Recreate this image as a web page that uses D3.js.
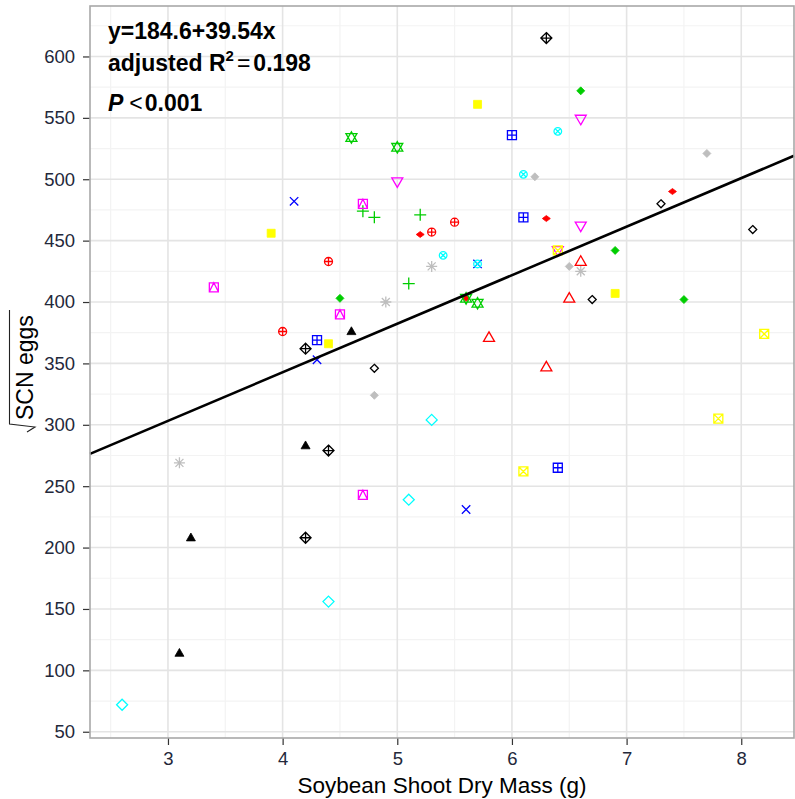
<!DOCTYPE html>
<html>
<head>
<meta charset="utf-8">
<script src="https://cdn.jsdelivr.net/npm/d3@7"></script>
<style>
  html, body { margin: 0; padding: 0; background: #fff; }
  svg { display: block; font-family: "Liberation Sans", Arial, sans-serif; }
</style>
</head>
<body>
<svg id="chart" width="795" height="799"></svg>
<script>
// Soybean shoot dry mass (g) per plant, one row per cultivar group
const shootMass = [
  [3.1, 3.2, 4.2, 4.6],      // g1
  [4.2, 4.2, 4.4, 6.3],      // g2
  [4.8, 6.7, 7.3, 8.1],      // g3
  [4.8, 6.2, 6.5, 7.7],      // g4
  [3.1, 4.9, 5.3, 6.6],      // g5
  [5.2, 5.6, 6.3, 7.4],      // g6
  [4.0, 4.4, 5.3, 5.5],      // g7
  [5.8, 6.3, 6.5, 6.6],      // g8
  [4.5, 6.6, 6.9, 7.5],      // g9
  [4.7, 4.8, 5.1, 5.2],      // g10
  [4.6, 5.0, 5.6, 5.7],      // g11
  [4.3, 6.0, 6.1, 6.4],      // g12
  [4.1, 4.3, 5.6, 5.7],      // g13
  [2.6, 4.4, 5.1, 5.3],      // g14
  [5.4, 5.7, 6.1, 6.4],      // g15
  [5.0, 6.4, 6.6, 6.6],      // g16
  [3.4, 4.5, 4.7, 4.7],      // g17
  [3.9, 4.4, 5.7, 6.9],      // g18
  [6.1, 6.4, 7.8, 8.2]       // g19
];

// square-root transformed SCN egg counts, same order as shootMass
const sqrtEggs = [
  [114, 208, 283, 376],
  [208, 362, 279, 615],
  [346, 402, 480, 459],
  [324, 502, 429, 521],
  [269, 400, 429, 425],
  [455, 403, 468, 490],
  [376, 433, 457, 465],
  [371, 347, 403, 433],
  [403, 572, 442, 402],
  [474, 469, 415, 471],
  [534, 526, 403, 399],
  [369, 536, 469, 265],
  [482, 353, 231, 431],
  [72, 156, 239, 304],
  [438, 431, 504, 539],
  [498, 442, 462, 549],
  [412, 390, 243, 480],
  [456, 366, 561, 407],
  [262, 442, 305, 374]
];

// fitted linear model
const intercept = 184.6;
const slope = 39.54;
const adjR2 = "0.198";
const pText = "0.001";

const xTicks = [3, 4, 5, 6, 7, 8];
const yTicks = [50, 100, 150, 200, 250, 300, 350, 400, 450, 500, 550, 600];
const xMinor = [2.5, 3.5, 4.5, 5.5, 6.5, 7.5];
const yMinor = [75, 125, 175, 225, 275, 325, 375, 425, 475, 525, 575, 625];

// marker look for each group (base R palette colours)
const markerStyle = [
  { shape: "triFilled",   color: "#000000" },
  { shape: "diamondPlus", color: "#000000" },
  { shape: "diamondSm",   color: "#000000" },
  { shape: "diamondFill", color: "#bebebe" },
  { shape: "asterisk",    color: "#bebebe" },
  { shape: "diamondFlat", color: "#ff0000" },
  { shape: "circlePlus",  color: "#ff0000" },
  { shape: "triOpen",     color: "#ff0000" },
  { shape: "diamondFill", color: "#00cd00" },
  { shape: "plus",        color: "#00cd00" },
  { shape: "star",        color: "#00cd00" },
  { shape: "squarePlus",  color: "#0000ff" },
  { shape: "cross",       color: "#0000ff" },
  { shape: "diamondOpen", color: "#00ffff" },
  { shape: "circleCross", color: "#00ffff" },
  { shape: "triDown",     color: "#ff00ff" },
  { shape: "squareTri",   color: "#ff00ff" },
  { shape: "squareFill",  color: "#ffff00" },
  { shape: "squareCross", color: "#ffff00" }
];

const svg = d3.select("#chart");
const panel = { left: 90, top: 6, right: 794, bottom: 738 };

const x = d3.scaleLinear().domain([2.32, 8.46]).range([panel.left, panel.right]);
const y = d3.scaleLinear().domain([44.9, 641.1]).range([panel.bottom, panel.top]);

// grid
const grid = svg.append("g");
grid.selectAll(".xminor").data(xMinor).join("line")
  .attr("x1", d => x(d)).attr("x2", d => x(d))
  .attr("y1", panel.top).attr("y2", panel.bottom)
  .attr("stroke", "#f3f3f3").attr("stroke-width", 1.2);
grid.selectAll(".yminor").data(yMinor).join("line")
  .attr("y1", d => y(d)).attr("y2", d => y(d))
  .attr("x1", panel.left).attr("x2", panel.right)
  .attr("stroke", "#f3f3f3").attr("stroke-width", 1.2);
grid.selectAll(".xmajor").data(xTicks).join("line")
  .attr("x1", d => x(d)).attr("x2", d => x(d))
  .attr("y1", panel.top).attr("y2", panel.bottom)
  .attr("stroke", "#e4e4e4").attr("stroke-width", 1.6);
grid.selectAll(".ymajor").data(yTicks).join("line")
  .attr("y1", d => y(d)).attr("y2", d => y(d))
  .attr("x1", panel.left).attr("x2", panel.right)
  .attr("stroke", "#e4e4e4").attr("stroke-width", 1.6);

// axes
const xAxis = d3.axisBottom(x).tickValues(xTicks).tickSize(7).tickPadding(7).tickFormat(d3.format("d"));
const yAxis = d3.axisLeft(y).tickValues(yTicks).tickSize(7).tickPadding(8).tickFormat(d3.format("d"));

const gx = svg.append("g").attr("transform", `translate(0,${panel.bottom})`).call(xAxis);
const gy = svg.append("g").attr("transform", `translate(${panel.left},0)`).call(yAxis);
[gx, gy].forEach(g => {
  g.select(".domain").remove();
  g.selectAll(".tick line").attr("stroke", "#333").attr("stroke-width", 1.2);
  g.selectAll(".tick text").attr("fill", "#23283a").attr("font-size", 18.5)
    .attr("font-family", "Liberation Sans, Arial, sans-serif");
});

// marker paths
function markerPath(shape) {
  const p = d3.path();
  const tri = (w, up) => {
    const h = w * 0.87, s = up ? 1 : -1;
    p.moveTo(0, -s * h * 0.6); p.lineTo(w / 2, s * h * 0.4); p.lineTo(-w / 2, s * h * 0.4); p.closePath();
  };
  const dia = (w, h) => { p.moveTo(0, -h / 2); p.lineTo(w / 2, 0); p.lineTo(0, h / 2); p.lineTo(-w / 2, 0); p.closePath(); };
  const plus = r => { p.moveTo(-r, 0); p.lineTo(r, 0); p.moveTo(0, -r); p.lineTo(0, r); };
  const cross = r => { p.moveTo(-r, -r); p.lineTo(r, r); p.moveTo(-r, r); p.lineTo(r, -r); };
  const sq = r => { p.rect(-r, -r, 2 * r, 2 * r); };
  const circ = r => { p.moveTo(r, 0); p.arc(0, 0, r, 0, 2 * Math.PI); };
  switch (shape) {
    case "triFilled": tri(9, true); break;
    case "triOpen": tri(11, true); break;
    case "triDown": tri(11, false); break;
    case "diamondPlus": dia(11, 11); plus(5.5); break;
    case "diamondSm": dia(8, 8); break;
    case "diamondFill": dia(8, 8); break;
    case "diamondFlat": dia(8, 6); break;
    case "diamondOpen": dia(11, 11); break;
    case "asterisk": plus(5.5); cross(4); break;
    case "circlePlus": circ(4); plus(4); break;
    case "circleCross": circ(3.8); cross(2.7); break;
    case "plus": plus(6); break;
    case "cross": cross(4.2); break;
    case "star": tri(11, true); tri(11, false); break;
    case "squarePlus": sq(4.5); plus(4.5); break;
    case "squareCross": sq(4.5); cross(4.5); break;
    case "squareTri": sq(4.5); p.moveTo(-4.5, 4.5); p.lineTo(0, -4.5); p.lineTo(4.5, 4.5); break;
    case "squareFill": sq(4); break;
  }
  return p.toString();
}
const filledShapes = new Set(["triFilled", "diamondFill", "diamondFlat", "squareFill"]);

// points, one group at a time
const pts = svg.append("g");
shootMass.forEach((xs, gi) => {
  const st = markerStyle[gi];
  const d = markerPath(st.shape);
  const filled = filledShapes.has(st.shape);
  pts.append("g").selectAll("path")
    .data(xs.map((v, i) => ({ mass: v, eggs: sqrtEggs[gi][i] })))
    .join("path")
    .attr("transform", p => `translate(${x(p.mass)},${y(p.eggs)})`)
    .attr("d", d)
    .attr("fill", filled ? st.color : "none")
    .attr("stroke", st.color)
    .attr("stroke-width", filled ? 0.8 : 1.3);
});

// regression line across the full panel
const xd = x.domain();
svg.append("line")
  .attr("x1", x(xd[0])).attr("y1", y(intercept + slope * xd[0]))
  .attr("x2", x(xd[1])).attr("y2", y(intercept + slope * xd[1]))
  .attr("stroke", "#000").attr("stroke-width", 2.6);

// panel border
svg.append("rect")
  .attr("x", panel.left).attr("y", panel.top)
  .attr("width", panel.right - panel.left).attr("height", panel.bottom - panel.top)
  .attr("fill", "none").attr("stroke", "#a8a8a8").attr("stroke-width", 1.6);

// model annotations
const ann = svg.append("g").attr("font-size", 23).attr("font-weight", "bold").attr("fill", "#000");
ann.append("text").attr("x", 108).attr("y", 39).text(`y=${intercept}+${slope}x`);
const r2 = ann.append("text").attr("x", 108).attr("y", 71);
r2.append("tspan").text("adjusted R");
r2.append("tspan").attr("font-size", 15).attr("dy", -10).text("2");
r2.append("tspan").attr("dy", 10).attr("font-weight", "normal").attr("dx", 3).text("=");
r2.append("tspan").attr("dx", 3).text(adjR2);
const pt = ann.append("text").attr("x", 108).attr("y", 111);
pt.append("tspan").attr("font-style", "italic").text("P");
pt.append("tspan").attr("dx", 6).attr("font-weight", "normal").text("<");
pt.append("tspan").attr("dx", 2).text(pText);

// axis titles
svg.append("text")
  .attr("x", (panel.left + panel.right) / 2).attr("y", 793)
  .attr("text-anchor", "middle").attr("font-size", 22.5).attr("fill", "#000")
  .text("Soybean Shoot Dry Mass (g)");

const yMid = (panel.top + panel.bottom) / 2;
svg.append("text")
  .attr("transform", `translate(33,${yMid + 48}) rotate(-90)`)
  .attr("text-anchor", "start").attr("font-size", 23).attr("fill", "#000")
  .text("SCN eggs");
// radical sign drawn alongside the rotated label
svg.append("path")
  .attr("d", `M27,${yMid + 60} L35,${yMid + 55} L9.5,${yMid + 52} L9.5,${yMid - 62}`)
  .attr("fill", "none").attr("stroke", "#222").attr("stroke-width", 1.1);
</script>
</body>
</html>
